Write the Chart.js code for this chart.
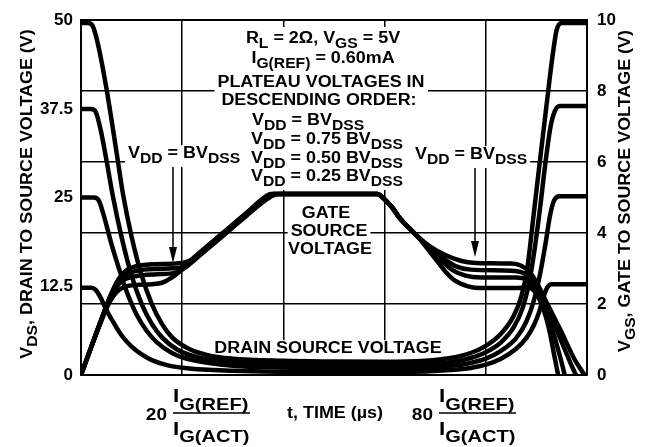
<!DOCTYPE html>
<html>
<head>
<meta charset="utf-8">
<script src="https://cdn.jsdelivr.net/npm/chart.js@4.4.0/dist/chart.umd.min.js"></script>
<style>
  html, body { margin: 0; padding: 0; background: #fff; }
  canvas { display: block; }
</style>
</head>
<body>
<canvas class="myChart" width="657" height="447"></canvas>
<script>
// t, TIME (us) - grid every 20
var timeMin = 0, timeMax = 100, timeStep = 20;
var vdsTicks = [0, 12.5, 25, 37.5, 50];
var vgsTicks = [0, 2, 4, 6, 8, 10];

// drain source voltage, [t, V] (left axis)
var vds50 = [[0,49.6],[1.4,49.6],[2.3,49.2],[3.3,46.8],[5,40.5],[7,31.5],[8.3,25.5],[10,19.5],[12,14],[14,10],[16,7.2],[18,5.3],[21,3.8],[25,2.8],[30,2.3],[40,2.0],[50,1.9],[60,1.85],[68,2.0],[73,2.4],[77,3.1],[80,4.1],[83,5.8],[85.5,8.3],[87,11],[88.2,15],[89.2,21],[90.5,29],[92,38],[93.2,45],[94,48.6],[95,49.6],[100,49.6]];
var vds375 = [[0,37.5],[2,37.5],[2.9,37.1],[3.9,34.5],[5.1,30],[6.3,25.2],[8,19.5],[10,14],[12,10],[14,7.2],[16,5.3],[19,3.6],[23,2.5],[30,1.75],[40,1.5],[50,1.4],[60,1.35],[68,1.5],[73,1.8],[77,2.4],[80,3.2],[83,4.6],[85.5,6.7],[87.3,9.5],[88.7,13.5],[89.8,18.5],[90.8,24],[91.8,30],[92.8,35],[93.6,37.1],[94.6,37.9],[100,37.9]];
var vds25 = [[0,25],[2.6,25],[3.5,24.6],[4.5,22.5],[6,18.5],[7.5,15],[9,11.8],[11,8.5],[13,6.2],[15,4.6],[18,3.1],[22,2.1],[30,1.3],[40,1.05],[50,0.95],[60,0.9],[68,1.0],[73,1.25],[77,1.7],[80,2.3],[83,3.4],[86,5.2],[88,7.5],[89.5,10.5],[90.8,14.5],[91.8,18.5],[92.7,22.5],[93.5,24.6],[94.5,25.2],[100,25.2]];
var vds125 = [[0,12.3],[2,12.3],[2.9,12],[3.8,11],[5,9.2],[6.5,7.3],[8,5.6],[10,4],[12,2.9],[14,2.1],[17,1.4],[21,0.95],[30,0.6],[40,0.45],[50,0.4],[60,0.4],[68,0.5],[73,0.7],[77,1.0],[80,1.45],[83,2.3],[86,3.7],[88,5.2],[89.5,7],[90.6,9],[91.4,11],[92.2,12.4],[93,12.8],[100,12.8]];

// gate source voltage, [t, V] (right axis)
var vgs1 = [[0,0],[2,0.78],[4,1.56],[6,2.3],[7.5,2.72],[9,2.95],[11,3.07],[14,3.12],[20,3.16],[21.5,3.22],[23,3.4],[28,4.0],[33,4.6],[36.5,5.0],[38,5.1],[58.5,5.1],[60,4.95],[61.5,4.72],[63,4.42],[66,3.98],[69,3.62],[72,3.38],[75,3.22],[78,3.16],[85,3.14],[87,3.08],[88.5,2.92],[90,2.62],[92,2.05],[95,1.2],[97.5,0.45],[99.5,0]];
var vgs2 = [[0,0],[2,0.78],[4,1.56],[6,2.28],[7.5,2.65],[9,2.84],[11,2.94],[15,2.99],[19.5,3.02],[21,3.12],[22.5,3.3],[27.5,3.92],[32.5,4.54],[36,4.98],[37.5,5.1],[58.5,5.1],[60,4.95],[61.5,4.72],[63,4.42],[66,3.98],[69,3.58],[71.5,3.3],[74,3.07],[77,2.97],[85,2.94],[87,2.9],[88.5,2.78],[90,2.52],[92,1.95],[94.5,1.1],[96.7,0.35],[97.8,0]];
var vgs3 = [[0,0],[2,0.78],[4,1.55],[5.5,2.1],[7,2.48],[8.5,2.68],[11,2.79],[15,2.84],[18.5,2.88],[20.5,3.02],[22.5,3.25],[27.5,3.86],[32.5,4.48],[36.5,4.98],[38,5.1],[58.5,5.1],[60,4.95],[61.5,4.72],[63,4.42],[66,3.98],[68.5,3.62],[71,3.25],[73.5,2.95],[76,2.8],[79,2.75],[86,2.75],[88,2.7],[89.5,2.52],[91,2.15],[93,1.35],[94.8,0.45],[95.6,0]];
var vgs4 = [[0,0],[2,0.78],[4,1.52],[5.5,2.02],[7,2.33],[8.5,2.48],[11,2.54],[14,2.56],[16,2.6],[18,2.75],[20,2.98],[22,3.22],[27,3.8],[32,4.4],[37,4.98],[39,5.1],[58.5,5.1],[60,4.95],[61.5,4.72],[63,4.42],[66,3.98],[68,3.65],[70,3.28],[72,2.92],[74,2.65],[76.5,2.5],[79,2.45],[86,2.45],[88,2.47],[89.5,2.38],[91,2.0],[92.5,1.3],[93.6,0.5],[94.3,0]];

var FONT = '"Liberation Sans", Arial, sans-serif';
var HS = 1.12; // the original lettering is a bit wide

function splitSub(str) {
    var out = [], re = /_\{([^}]*)\}/g, last = 0, m;
    while ((m = re.exec(str))) {
        if (m.index > last) out.push({ t: str.slice(last, m.index), s: false });
        out.push({ t: m[1], s: true });
        last = re.lastIndex;
    }
    if (last < str.length) out.push({ t: str.slice(last), s: false });
    return out;
}

function drawRich(ctx, str, x, y, o) {
    o = o || {};
    var size = o.size || 16, sub = o.sub || size - 2, dy = o.dy || 5, hs = o.hs || HS;
    var list = splitSub(str), w = 0;
    list.forEach(function (p) {
        ctx.font = 'bold ' + (p.s ? sub : size) + 'px ' + FONT;
        p.w = ctx.measureText(p.t).width;
        w += p.w;
    });
    w *= hs;
    var x0 = o.align === 'center' ? x - w / 2 : (o.align === 'right' ? x - w : x);
    if (o.bg) {
        ctx.fillStyle = '#fff';
        ctx.fillRect(x0 - 3, y - size * 0.8, w + 6, size * 0.8 + dy + 4);
    }
    ctx.save();
    ctx.translate(x0, y);
    ctx.scale(hs, 1);
    ctx.fillStyle = '#000';
    ctx.textAlign = 'left';
    ctx.textBaseline = 'alphabetic';
    var cx = 0;
    list.forEach(function (p) {
        ctx.font = 'bold ' + (p.s ? sub : size) + 'px ' + FONT;
        ctx.fillText(p.t, cx, p.s ? dy : 0);
        cx += p.w;
    });
    ctx.restore();
}

function drawFrac(ctx, x, yBar) {
    drawRich(ctx, 'I_{G(REF)}', x, yBar - 11, { size: 19, sub: 17, dy: 8, hs: 1.18 });
    ctx.fillStyle = '#000';
    ctx.fillRect(x, yBar - 0.75, 77, 1.5);
    drawRich(ctx, 'I_{G(ACT)}', x, yBar + 22, { size: 19, sub: 17, dy: 7, hs: 1.18 });
}

function arrow(ctx, x, y0, y1) {
    ctx.fillStyle = '#000';
    ctx.fillRect(x - 0.75, y0, 1.5, y1 - y0 - 10);
    ctx.beginPath();
    ctx.moveTo(x - 4, y1 - 16);
    ctx.lineTo(x + 4, y1 - 16);
    ctx.lineTo(x, y1);
    ctx.closePath();
    ctx.fill();
}

var notes = [
    ['R_{L} = 2Ω, V_{GS} = 5V', 323, 43, 'center'],
    ['I_{G(REF)} = 0.60mA', 323, 63, 'center'],
    ['PLATEAU VOLTAGES IN', 321, 87, 'center'],
    ['DESCENDING ORDER:', 319, 105, 'center'],
    ['V_{DD} = BV_{DSS}', 252, 125, 'left'],
    ['V_{DD} = 0.75 BV_{DSS}', 251, 144, 'left'],
    ['V_{DD} = 0.50 BV_{DSS}', 251, 163, 'left'],
    ['V_{DD} = 0.25 BV_{DSS}', 251, 181, 'left'],
    ['V_{DD} = BV_{DSS}', 128, 158, 'left'],
    ['V_{DD} = BV_{DSS}', 415, 159, 'left'],
    ['GATE', 326, 218, 'center'],
    ['SOURCE', 329, 236, 'center'],
    ['VOLTAGE', 330, 254, 'center'],
    ['DRAIN SOURCE VOLTAGE', 328, 353, 'center']
];

var notesPlugin = {
    id: 'notes',
    beforeDatasetsDraw: function (chart) {
        var ctx = chart.ctx;
        ctx.save();
        ctx.fillStyle = '#fff';
        ctx.fillRect(215, 27, 213, 162);
        notes.forEach(function (n) {
            drawRich(ctx, n[0], n[1], n[2], { align: n[3], bg: true });
        });
        arrow(ctx, 173, 167, 263);
        arrow(ctx, 475, 168, 257);
        ctx.restore();
    },
    afterDraw: function (chart) {
        var ctx = chart.ctx;
        ctx.save();
        ctx.translate(26, 194);
        ctx.rotate(-Math.PI / 2);
        drawRich(ctx, 'V_{DS}, DRAIN TO SOURCE VOLTAGE (V)', 0, 6, { align: 'center' });
        ctx.restore();
        ctx.save();
        ctx.translate(624, 191);
        ctx.rotate(-Math.PI / 2);
        drawRich(ctx, 'V_{GS}, GATE TO SOURCE VOLTAGE (V)', 0, 6, { align: 'center' });
        ctx.restore();

        drawRich(ctx, '20', 167, 420, { align: 'right', size: 17 });
        drawFrac(ctx, 173, 413);
        drawRich(ctx, 't, TIME (µs)', 335, 418, { align: 'center', size: 16 });
        drawRich(ctx, '80', 433, 420, { align: 'right', size: 17 });
        drawFrac(ctx, 439, 413);
    }
};

function line(points, axis) {
    return {
        data: points.map(function (p) { return { x: p[0], y: p[1] }; }),
        yAxisID: axis,
        borderColor: '#000',
        borderWidth: 4.5,
        pointRadius: 0,
        fill: false,
        cubicInterpolationMode: 'monotone',
        borderJoinStyle: 'round'
    };
}

var tickFont = { family: FONT, size: 17, weight: 'bold' };

var ctx = document.getElementsByClassName('myChart')[0].getContext('2d');
var chart = new Chart(ctx, {
    type: 'line',
    data: {
        datasets: [
            line(vds50, 'y'), line(vds375, 'y'), line(vds25, 'y'), line(vds125, 'y'),
            line(vgs1, 'y2'), line(vgs2, 'y2'), line(vgs3, 'y2'), line(vgs4, 'y2')
        ]
    },
    options: {
        responsive: false,
        animation: false,
        devicePixelRatio: 1,
        layout: { padding: { top: 19, left: 0, right: 0, bottom: 0 } },
        plugins: { legend: { display: false }, tooltip: { enabled: false } },
        scales: {
            x: {
                type: 'linear',
                min: timeMin,
                max: timeMax,
                ticks: { display: false, stepSize: timeStep },
                grid: { color: '#000', lineWidth: 1.5, drawTicks: false },
                border: { color: '#000', width: 2 },
                afterFit: function (s) { s.height = 72; }
            },
            y: {
                position: 'left',
                min: 0,
                max: 50,
                afterBuildTicks: function (s) { s.ticks = vdsTicks.map(function (v) { return { value: v }; }); },
                ticks: { color: '#000', font: tickFont, padding: 8 },
                grid: { display: false, drawTicks: false },
                border: { display: true, color: '#000', width: 2 },
                afterFit: function (s) { s.width = 81; }
            },
            y2: {
                position: 'right',
                min: 0,
                max: 10,
                afterBuildTicks: function (s) { s.ticks = vgsTicks.map(function (v) { return { value: v }; }); },
                ticks: { color: '#000', font: tickFont, padding: 10 },
                grid: {
                    color: '#000',
                    lineWidth: function (c) { return c.tick && c.tick.value === 10 ? 2 : 1.5; },
                    drawTicks: false
                },
                border: { color: '#000', width: 2 },
                afterFit: function (s) { s.width = 70; }
            }
        }
    },
    plugins: [notesPlugin]
});
</script>
</body>
</html>
